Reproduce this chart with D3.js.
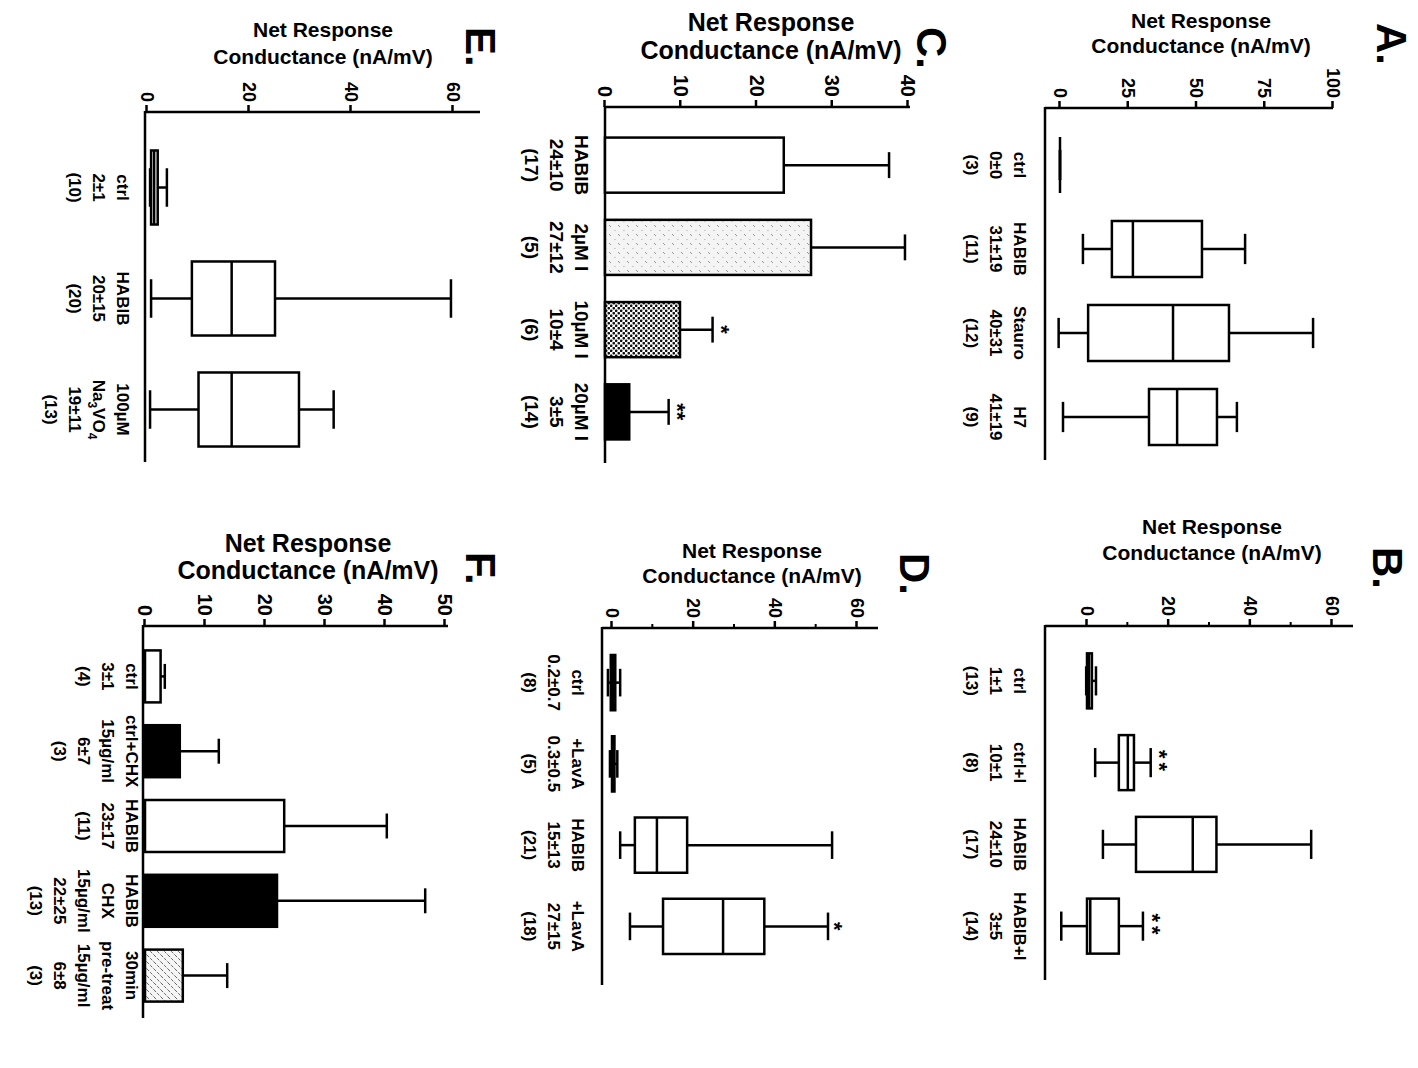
<!DOCTYPE html>
<html><head><meta charset="utf-8">
<script src="https://cdn.jsdelivr.net/npm/d3@7"></script>
<style>body{margin:0;background:#fff;} svg{display:block;}</style>
</head><body>
<script>
const FONT = "'Liberation Sans', Arial, Helvetica, sans-serif";

// ---------- Panel A : box plots ----------
const catsA   = ["ctrl", "HABIB", "Stauro", "H7"];
const labelsA = [["ctrl","0±0","(3)"], ["HABIB","31±19","(11)"], ["Stauro","40±31","(12)"], ["H7","41±19","(9)"]];
const minA = [0, 8.4, -0.5, 1.1];
const q1A  = [0, 19.0, 10.3, 32.6];
const medA = [0, 26.7, 41.4, 42.9];
const q3A  = [0, 52.0, 61.9, 57.5];
const maxA = [0, 67.8, 92.7, 64.8];
const ticksA = [0, 25, 50, 75, 100];

// ---------- Panel B : box plots ----------
const catsB   = ["ctrl", "ctrl+I", "HABIB", "HABIB+I"];
const labelsB = [["ctrl","1±1","(13)"], ["ctrl+I","10±1","(8)"], ["HABIB","24±10","(17)"], ["HABIB+I","3±5","(14)"]];
const minB = [-0.2, 2.0, 3.9, -6.3];
const q1B  = [0, 7.8, 12.0, 0];
const medB = [0.5, 10.0, 25.9, 0.8];
const q3B  = [1.2, 11.5, 31.7, 7.8];
const maxB = [2.2, 15.6, 54.9, 13.7];
const starsB = ["", "**", "", "**"];
const ticksB = [0, 20, 40, 60];
const minorB = [10, 30, 50];

// ---------- Panel C : bars ----------
const catsC   = ["HABIB", "2µM I", "10µM I", "20µM I"];
const labelsC = [["HABIB","24±10","(17)"], ["2µM I","27±12","(5)"], ["10µM I","10±4","(6)"], ["20µM I","3±5","(14)"]];
const meanC = [23.6, 27.2, 9.9, 3.2];
const errC  = [13.9, 12.4, 4.3, 5.2];
const fillC = ["white", "url(#stipple)", "url(#dots)", "black"];
const starsC = ["", "", "*", "**"];
const ticksC = [0, 10, 20, 30, 40];

// ---------- Panel D : box plots ----------
const catsD   = ["ctrl", "+LavA", "HABIB", "HABIB+LavA"];
const labelsD = [["ctrl","0.2±0.7","(8)"], ["+LavA","0.3±0.5","(5)"], ["HABIB","15±13","(21)"], ["+LavA","27±15","(18)"]];
const minD = [-1.0, -0.5, 2.0, 4.4];
const q1D  = [-0.3, 0.0, 5.6, 12.5];
const medD = [0.2, 0.3, 11.0, 27.2];
const q3D  = [0.8, 0.6, 18.4, 37.3];
const maxD = [2.0, 1.3, 53.9, 52.9];
const starsD = ["", "", "", "*"];
const ticksD = [0, 20, 40, 60];
const minorD = [10, 30, 50];

// ---------- Panel E : box plots ----------
const catsE   = ["ctrl", "HABIB", "Na3VO4"];
const labelsE = [["ctrl","2±1","(10)"], ["HABIB","20±15","(20)"], ["100µM","Na_3VO_4","19±11","(13)"]];
const minE = [0.6, 0.8, 0.6];
const q1E  = [0.8, 8.8, 10.1];
const medE = [1.4, 16.6, 16.6];
const q3E  = [2.1, 25.1, 29.8];
const maxE = [3.9, 59.6, 36.6];
const ticksE = [0, 20, 40, 60];

// ---------- Panel F : bars ----------
const catsF   = ["ctrl", "ctrl+CHX", "HABIB", "HABIB CHX", "30min pre-treat"];
const labelsF = [["ctrl","3±1","(4)"], ["ctrl+CHX","15µg/ml","6±7","(3)"], ["HABIB","23±17","(11)"],
                 ["HABIB","CHX","15µg/ml","22±25","(13)"], ["30min","pre-treat","15µg/ml","6±8","(3)"]];
const meanF = [2.6, 5.8, 23.2, 22.0, 6.3];
const errF  = [0.7, 6.5, 17.1, 24.7, 7.4];
const fillF = ["white", "black", "white", "black", "url(#hatch)"];
const ticksF = [0, 10, 20, 30, 40, 50];

const titleLines = ["Net Response", "Conductance (nA/mV)"];

// ---------------------------------------------------------
const svg = d3.select("body").append("svg").attr("width", 1418).attr("height", 1068);
const defs = svg.append("defs");

// light stipple
const pS = defs.append("pattern").attr("id","stipple").attr("patternUnits","userSpaceOnUse").attr("width",9).attr("height",9);
pS.append("rect").attr("width",9).attr("height",9).attr("fill","#f4f4f4");
pS.append("line").attr("x1",1).attr("y1",4).attr("x2",3).attr("y2",2).attr("stroke","#8a8a8a").attr("stroke-width",0.9);
pS.append("circle").attr("cx",6.5).attr("cy",7).attr("r",0.6).attr("fill","#999");
// dense dots
const pD = defs.append("pattern").attr("id","dots").attr("patternUnits","userSpaceOnUse").attr("width",5).attr("height",5);
pD.append("rect").attr("width",5).attr("height",5).attr("fill","#fff");
pD.append("circle").attr("cx",1.25).attr("cy",1.25).attr("r",1.35).attr("fill","#111");
pD.append("circle").attr("cx",3.75).attr("cy",3.75).attr("r",1.35).attr("fill","#111");
// hatch
const pH = defs.append("pattern").attr("id","hatch").attr("patternUnits","userSpaceOnUse").attr("width",7).attr("height",7);
pH.append("rect").attr("width",7).attr("height",7).attr("fill","#f6f6f6");
pH.append("line").attr("x1",0).attr("y1",7).attr("x2",7).attr("y2",0).attr("stroke","#555").attr("stroke-width",0.9).attr("stroke-dasharray","3,1.5");

function setRich(sel, str) {
  const parts = str.split(/(_\d)/).filter(s => s.length);
  let shifted = false;
  parts.forEach(pt => {
    if (pt[0] === "_") {
      sel.append("tspan").attr("dy", 5).attr("font-size", "70%").text(pt.slice(1));
      shifted = true;
    } else {
      const t = sel.append("tspan").text(pt);
      if (shifted) { t.attr("dy", -5); shifted = false; }
    }
  });
}

function drawPanel(P) {
  const Hl = P.axisEnd - P.axisX;
  const TX = P.axisEnd, TY = P.axisY;
  const g = svg.append("g").attr("transform", `translate(${TX},${TY}) rotate(90)`);
  const y = d3.scaleLinear().domain(P.vDomain).range([TX - P.vPix[0], TX - P.vPix[1]]);
  const x = d3.scaleBand().domain(P.cats).range([P.catRange[0] - TY, P.catRange[1] - TY])
              .paddingInner(P.pad).paddingOuter(P.pad / 2);
  const bw = x.bandwidth();
  const idx = d3.range(P.cats.length);

  // value axis ticks
  const axG = g.append("g").call(d3.axisLeft(y).tickValues(P.ticks).tickSize(7).tickPadding(3).tickSizeOuter(0));
  axG.select(".domain").remove();
  axG.selectAll(".tick line").attr("stroke", "#000").attr("stroke-width", 2.5);
  axG.selectAll(".tick text").attr("font-family", FONT).attr("font-weight", "bold")
     .attr("font-size", P.tickFont).attr("fill", "#000");
  if (P.minor) {
    const mG = g.append("g").call(d3.axisLeft(y).tickValues(P.minor).tickSize(4).tickFormat(() => ""));
    mG.select(".domain").remove();
    mG.selectAll(".tick line").attr("stroke", "#000").attr("stroke-width", 2);
  }
  // axis lines
  g.append("line").attr("x1", 0).attr("x2", 0).attr("y1", 0).attr("y2", Hl)
   .attr("stroke", "#000").attr("stroke-width", 2.5);
  g.append("line").attr("x1", -1).attr("x2", P.catEnd - TY).attr("y1", Hl).attr("y2", Hl)
   .attr("stroke", "#000").attr("stroke-width", 2.5);

  const sw = 2.5;
  let tops = [];
  if (P.type === "box") {
    const cw = bw * P.cap;
    const gb = g.append("g").attr("stroke", "#000").attr("stroke-width", sw);
    gb.selectAll(".wu").data(idx).join("line")
      .attr("x1", i => x(P.cats[i]) + bw / 2).attr("x2", i => x(P.cats[i]) + bw / 2)
      .attr("y1", i => y(P.q3[i])).attr("y2", i => y(P.max[i]));
    gb.selectAll(".wl").data(idx).join("line").attr("class","wl")
      .attr("x1", i => x(P.cats[i]) + bw / 2).attr("x2", i => x(P.cats[i]) + bw / 2)
      .attr("y1", i => y(P.q1[i])).attr("y2", i => y(P.min[i]));
    gb.selectAll(".cu").data(idx).join("line").attr("class","cu")
      .attr("x1", i => x(P.cats[i]) + bw / 2 - cw / 2).attr("x2", i => x(P.cats[i]) + bw / 2 + cw / 2)
      .attr("y1", i => y(P.max[i])).attr("y2", i => y(P.max[i]));
    gb.selectAll(".cl").data(idx).join("line").attr("class","cl")
      .attr("x1", i => x(P.cats[i]) + bw / 2 - cw / 2).attr("x2", i => x(P.cats[i]) + bw / 2 + cw / 2)
      .attr("y1", i => y(P.min[i])).attr("y2", i => y(P.min[i]));
    gb.selectAll(".bx").data(idx).join("rect").attr("class","bx")
      .attr("x", i => x(P.cats[i])).attr("width", bw)
      .attr("y", i => y(P.q3[i])).attr("height", i => Math.max(0, y(P.q1[i]) - y(P.q3[i])))
      .attr("fill", "#fff");
    gb.selectAll(".md").data(idx).join("line").attr("class","md")
      .attr("x1", i => x(P.cats[i])).attr("x2", i => x(P.cats[i]) + bw)
      .attr("y1", i => y(P.med[i])).attr("y2", i => y(P.med[i]));
    tops = P.max;
  } else {
    const cw = bw * P.cap;
    const gb = g.append("g").attr("stroke", "#000").attr("stroke-width", sw);
    gb.selectAll(".eb").data(idx).join("line").attr("class","eb")
      .attr("x1", i => x(P.cats[i]) + bw / 2).attr("x2", i => x(P.cats[i]) + bw / 2)
      .attr("y1", i => y(P.mean[i])).attr("y2", i => y(P.mean[i] + P.err[i]));
    gb.selectAll(".ec").data(idx).join("line").attr("class","ec")
      .attr("x1", i => x(P.cats[i]) + bw / 2 - cw / 2).attr("x2", i => x(P.cats[i]) + bw / 2 + cw / 2)
      .attr("y1", i => y(P.mean[i] + P.err[i])).attr("y2", i => y(P.mean[i] + P.err[i]));
    gb.selectAll(".br").data(idx).join("rect").attr("class","br")
      .attr("x", i => x(P.cats[i])).attr("width", bw)
      .attr("y", i => y(P.mean[i])).attr("height", i => y(0) - y(P.mean[i]))
      .attr("fill", i => P.fill[i]);
    tops = P.mean.map((m, i) => m + P.err[i]);
  }

  // significance stars
  if (P.stars) {
    g.selectAll(".st").data(idx.filter(i => P.stars[i])).join("text").attr("class","st")
      .attr("x", i => x(P.cats[i]) + bw / 2).attr("y", i => y(tops[i]) - P.starGap)
      .attr("dy", "0.56em").attr("text-anchor", "middle")
      .attr("font-family", FONT).attr("font-weight", "bold").attr("font-size", 22)
      .attr("letter-spacing", P.starLS || 0)
      .text(i => P.stars[i]);
  }

  // category labels
  idx.forEach(i => {
    P.labels[i].forEach((ln, j) => {
      const t = g.append("text")
        .attr("x", x(P.cats[i]) + bw / 2)
        .attr("y", Hl + P.labOff + j * P.labLS)
        .attr("dy", "0.36em").attr("text-anchor", "middle")
        .attr("font-family", FONT).attr("font-weight", "bold").attr("font-size", P.labFont);
      setRich(t, ln);
    });
  });

  // axis title (horizontal on screen)
  titleLines.forEach((ln, j) => {
    svg.append("text").attr("x", P.titleX).attr("y", P.titleY[j])
      .attr("text-anchor", "middle").attr("dominant-baseline", "central")
      .attr("font-family", FONT).attr("font-weight", "bold").attr("font-size", P.titleFont)
      .text(ln);
  });

  // panel letter
  svg.append("text").attr("transform", `translate(${P.letterPos[0]},${P.letterPos[1]}) rotate(90)`)
    .attr("font-family", FONT).attr("font-weight", "bold").attr("font-size", 42)
    .text(P.letter);
}

drawPanel({ type: "box", cats: catsA, labels: labelsA, min: minA, q1: q1A, med: medA, q3: q3A, max: maxA,
  ticks: ticksA, vDomain: [0, 100], vPix: [1060, 1333], axisX: 1045, axisEnd: 1333, axisY: 108,
  catRange: [123, 459], catEnd: 460, pad: 0.333, cap: 0.54, tickFont: 18,
  labOff: 25, labLS: 24, labFont: 17, titleX: 1201, titleY: [20, 45], titleFont: 21,
  letter: "A.", letterPos: [1377, 23] });

drawPanel({ type: "box", cats: catsB, labels: labelsB, min: minB, q1: q1B, med: medB, q3: q3B, max: maxB,
  stars: starsB, starGap: 14, starLS: 4,
  ticks: ticksB, minor: minorB, vDomain: [0, 60], vPix: [1087, 1332], axisX: 1045, axisEnd: 1353, axisY: 626,
  catRange: [640, 967], catEnd: 980, pad: 0.327, cap: 0.53, tickFont: 18,
  labOff: 25, labLS: 24, labFont: 17, titleX: 1212, titleY: [526, 552], titleFont: 21,
  letter: "B.", letterPos: [1373, 547] });

drawPanel({ type: "bar", cats: catsC, labels: labelsC, mean: meanC, err: errC, fill: fillC,
  stars: starsC, starGap: 14, starLS: 0,
  ticks: ticksC, vDomain: [0, 40], vPix: [605, 908], axisX: 605, axisEnd: 910, axisY: 107,
  catRange: [124, 453], catEnd: 463, pad: 0.33, cap: 0.47, tickFont: 20,
  labOff: 23, labLS: 25, labFont: 19, titleX: 771, titleY: [22, 50], titleFont: 25,
  letter: "C.", letterPos: [917, 27] });

drawPanel({ type: "box", cats: catsD, labels: labelsD, min: minD, q1: q1D, med: medD, q3: q3D, max: maxD,
  stars: starsD, starGap: 11, starLS: 0,
  ticks: ticksD, minor: minorD, vDomain: [0, 60], vPix: [612, 857], axisX: 602, axisEnd: 878, axisY: 628,
  catRange: [642, 967], catEnd: 985, pad: 0.32, cap: 0.5, tickFont: 18,
  labOff: 24, labLS: 24, labFont: 17, titleX: 752, titleY: [550, 575], titleFont: 21,
  letter: "D.", letterPos: [900, 553] });

drawPanel({ type: "box", cats: catsE, labels: labelsE, min: minE, q1: q1E, med: medE, q3: q3E, max: maxE,
  ticks: ticksE, vDomain: [0, 60], vPix: [147, 453], axisX: 145, axisEnd: 480, axisY: 112,
  catRange: [132, 465], catEnd: 462, pad: 0.333, cap: 0.52, tickFont: 18,
  labOff: 22, labLS: 24, labFont: 17, titleX: 323, titleY: [29, 56], titleFont: 21,
  letter: "E.", letterPos: [466, 27] });

drawPanel({ type: "bar", cats: catsF, labels: labelsF, mean: meanF, err: errF, fill: fillF,
  ticks: ticksF, vDomain: [0, 50], vPix: [145, 445], axisX: 143, axisEnd: 448, axisY: 626,
  catRange: [639, 1013], catEnd: 1018, pad: 0.305, cap: 0.48, tickFont: 20,
  labOff: 11, labLS: 24, labFont: 17, titleX: 308, titleY: [543, 570], titleFont: 25,
  letter: "F.", letterPos: [466, 552] });
</script>
</body></html>
